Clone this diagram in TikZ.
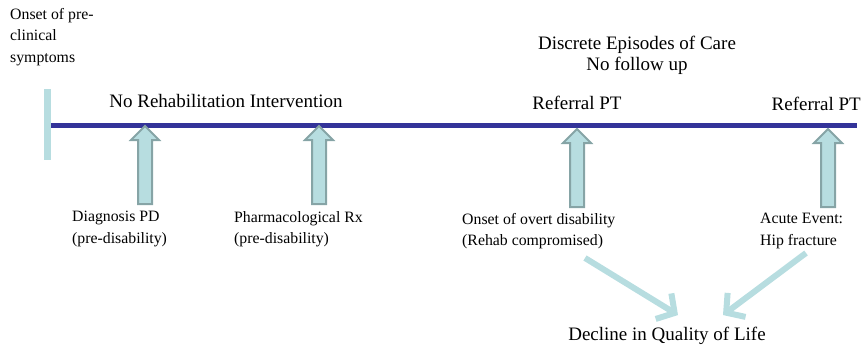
\documentclass[tikz,border=0pt]{standalone}
\usepackage{fontspec}
\setmainfont{Liberation Serif}
\usetikzlibrary{arrows.meta}
\definecolor{lineblue}{HTML}{333399}
\definecolor{lightcyan}{HTML}{B7DDE0}
\definecolor{arrowedge}{HTML}{86A4A6}
\tikzset{
  small/.style={font=\fontsize{15.8}{21.5}\selectfont, inner sep=0pt, align=left},
  big/.style={font=\fontsize{19}{21}\selectfont, inner sep=0pt, align=center},
  uparrow/.pic={\draw[line width=2pt, draw=arrowedge, fill=lightcyan, line join=miter]
      (-7,0) -- (-7,-64) -- (-14,-64) -- (0,-78) -- (14,-64) -- (7,-64) -- (7,0) -- cycle;},
  declarrow/.style={line width=6pt, draw=lightcyan, -{Straight Barb[length=13pt,width=30pt,line width=6pt]}}
}
\begin{document}
\begin{tikzpicture}[x=1pt,y=-1pt]
\useasboundingbox (0,0) rectangle (863,348);
% timeline
\coordinate (tl0) at (51,125);
\coordinate (tl1) at (857,125);
\draw[line width=5pt, lineblue] (tl0) -- (tl1);
\fill[lightcyan] (44,89) rectangle (51,160);
% up arrows
\pic at (145,204) {uparrow};
\pic at (319,204) {uparrow};
\pic at (577,207) {uparrow};
\pic at (828,207) {uparrow};
% top texts
\node[small, anchor=west] (onset) at (10,37) {Onset of pre-\\clinical\\symptoms};
\node[big] (norehab) at (226,101) {No Rehabilitation Intervention};
\node[big] (disc) at (637,55) {Discrete Episodes of Care\\No follow up};
\node[big] (ref1) at (577,103) {Referral PT};
\node[big, anchor=east] (ref2) at (861,104) {Referral PT};
% bottom labels
\node[small, anchor=west] (diag) at (72,229) {Diagnosis PD\\(pre-disability)};
\node[small, anchor=west] (pharm) at (234,229) {Pharmacological Rx\\(pre-disability)};
\node[small, anchor=west] (ovt) at (462,231) {Onset of overt disability\\(Rehab compromised)};
\node[small, anchor=west] (acute) at (760,231) {Acute Event:\\Hip fracture};
\node[big] (decl) at (667,336) {Decline in Quality of Life};
% diagonal arrows
\draw[declarrow] (585,258) -- ([xshift=11pt,yshift=12pt]decl.north);
\draw[declarrow] (806,253) -- ([xshift=56pt,yshift=12pt]decl.north);
\end{tikzpicture}
\end{document}
